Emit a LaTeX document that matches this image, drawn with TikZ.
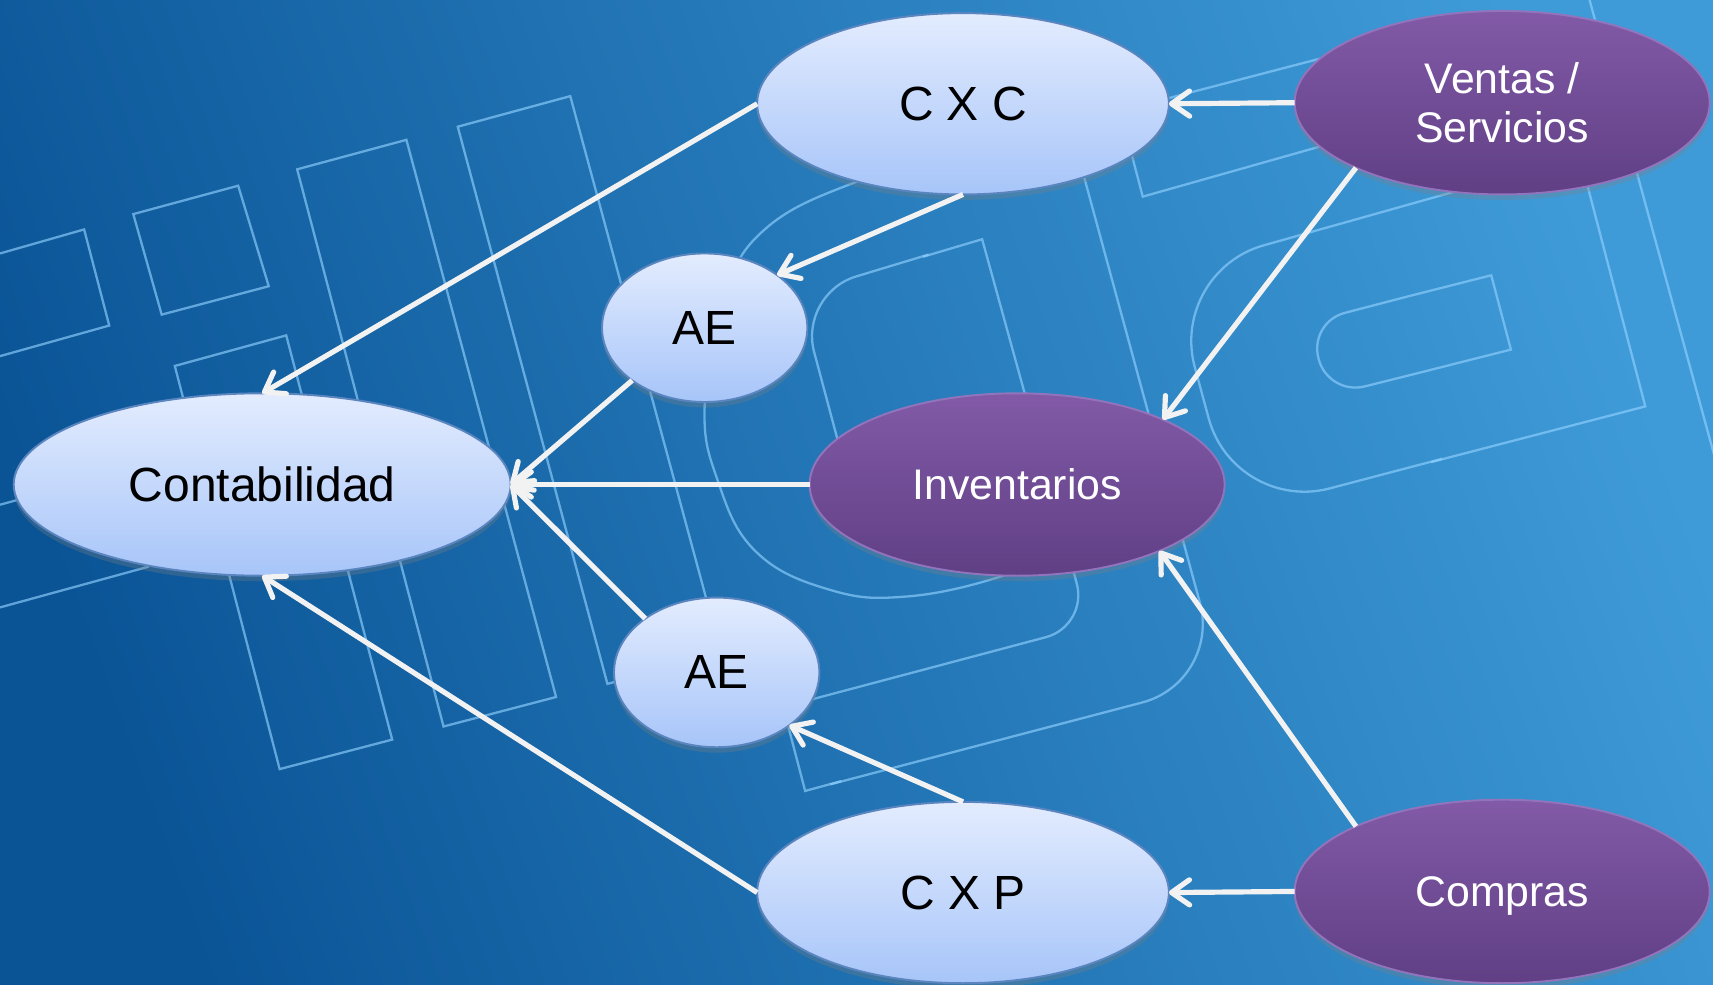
\documentclass[tikz,border=0pt]{standalone}
\usepackage{fontspec}
\setmainfont{Liberation Sans}
\usetikzlibrary{arrows.meta, shapes.geometric, shadows}
\definecolor{bgDark}{HTML}{0A5496}
\definecolor{bgLight}{HTML}{3F9BD8}
\definecolor{logoBlue}{HTML}{8FD0FF}
\definecolor{lightTop}{HTML}{E3ECFE}
\definecolor{lightBot}{HTML}{A7C5F9}
\definecolor{lightEdge}{HTML}{5A85BF}
\definecolor{purpTop}{HTML}{825AA7}
\definecolor{purpBot}{HTML}{603F85}
\definecolor{purpEdge}{HTML}{9274BC}
\definecolor{arrowWhite}{HTML}{F2F2F2}
\tikzset{
  arrowW/.style={-{Straight Barb[length=3.3mm, width=4.6mm, round]}, arrowWhite, line width=2.7pt},
  logoLine/.style={draw=logoBlue, draw opacity=0.65, line width=1.2pt},
  ellLight/.style={ellipse, top color=lightTop, bottom color=lightBot, draw=lightEdge,
                   line width=1pt, inner sep=0pt, outer sep=0pt, text=black,
                   font=\fontsize{25}{30}\selectfont,
                   drop shadow={opacity=0.3, shadow xshift=0pt, shadow yshift=-1mm}},
  ellPurple/.style={ellipse, top color=purpTop, bottom color=purpBot, draw=purpEdge,
                    line width=1pt, inner sep=0pt, outer sep=0pt, text=white, align=center,
                    font=\fontsize{22.3}{26}\selectfont,
                    drop shadow={opacity=0.3, shadow xshift=0pt, shadow yshift=-1mm}},
}
\begin{document}
\begin{tikzpicture}[x=0.02cm, y=-0.02cm]
    \useasboundingbox (0,0) rectangle (1568,901);
    \shade[top color=bgLight, bottom color=bgDark, shading angle=-70] (-20,-20) rectangle (1588,921);
    % logo outline behind the diagram
    \draw[logoLine] (0,232) -- (77,210) -- (100,298) -- (0,326);
    \draw[logoLine] (122,196) -- (218,170) -- (246,262) -- (148,288) -- cycle;
    \draw[logoLine] (0,462) -- (110,432) -- (135,519) -- (0,556);
    \draw[logoLine] (160,335) -- (262,307) -- (359,677) -- (256,704) -- cycle;
    \draw[logoLine] (272,155) -- (372,128) -- (509,638) -- (406,665) -- cycle;
    \draw[logoLine] (419,116) -- (522,88) -- (660,598) -- (556,626) -- cycle;
    \draw[logoLine] plot[smooth, tension=0.7] coordinates {(880,140) (785,166) (700,210) (662,275)
      (645,371) (657,440) (692,505) (760,540) (830,546) (915,528) (960,505)};
    \draw[logoLine, rounded corners=1.1cm] (770,415) -- (731,269) -- (850,233);
    \draw[logoLine] (845,235) -- (899,219) -- (960,440);
    \draw[logoLine, rounded corners=0.8cm] (955,420) -- (996,573) -- (740,641);
    \draw[logoLine, rounded corners=1.5cm] (970,80) -- (1118,624) -- (760,718);
    \draw[logoLine] (770,715) -- (737,724) -- (715,640);
    \draw[logoLine] (1025,100) -- (1046,180) -- (1230,128);
    \draw[logoLine] (1050,95) -- (1230,48);
    \draw[logoLine, rounded corners=1.8cm] (1340,173) -- (1070,249) -- (1130,470) -- (1320,420);
    \draw[logoLine] (1310,423) -- (1506,372) -- (1440,120);
    \draw[logoLine, rounded corners=0.68cm] (1290,271) -- (1198,295) -- (1216,362) -- (1300,341);
    \draw[logoLine] (1290,271) -- (1365,252) -- (1383,320) -- (1300,341);
    \draw[logoLine] (1455,0) -- (1570,420);

    \node[ellLight, minimum width=7.54cm, minimum height=3.32cm] (cxc) at (881.5,95) {C X C};
    \node[ellPurple, minimum width=7.6cm, minimum height=3.36cm] (ventas) at (1375,94) {Ventas /\\Servicios};
    \node[ellLight, minimum width=3.76cm, minimum height=2.72cm] (aeA) at (645,300) {AE};
    \node[ellLight, minimum width=9.1cm, minimum height=3.34cm] (cont) at (240,443.5) {Contabilidad};
    \node[ellPurple, minimum width=7.6cm, minimum height=3.34cm] (inv) at (931,443.5) {Inventarios};
    \node[ellLight, minimum width=3.76cm, minimum height=2.74cm] (aeB) at (656,615.5) {AE};
    \node[ellLight, minimum width=7.54cm, minimum height=3.32cm] (cxp) at (881.5,817) {C X P};
    \node[ellPurple, minimum width=7.6cm, minimum height=3.36cm] (compras) at (1375,816)
      {\raisebox{0pt}[\height][0pt]{Compras}};

    \draw[arrowW] (ventas.west) -- (cxc.east);
    \draw[arrowW] (cxc.west) -- (cont.north);
    \draw[arrowW] (cxc.south) -- (aeA.36);
    \draw[arrowW] (ventas.204) -- (inv.24);
    \draw[arrowW] (aeA.216) -- (cont.east);
    \draw[arrowW] (inv.west) -- (cont.east);
    \draw[arrowW] (aeB.143) -- (cont.east);
    \draw[arrowW] (cxp.west) -- (cont.south);
    \draw[arrowW] (cxp.north) -- (aeB.324);
    \draw[arrowW] (compras.west) -- (cxp.east);
    \draw[arrowW] (compras.156) -- (inv.335);
  \end{tikzpicture}
\end{document}
